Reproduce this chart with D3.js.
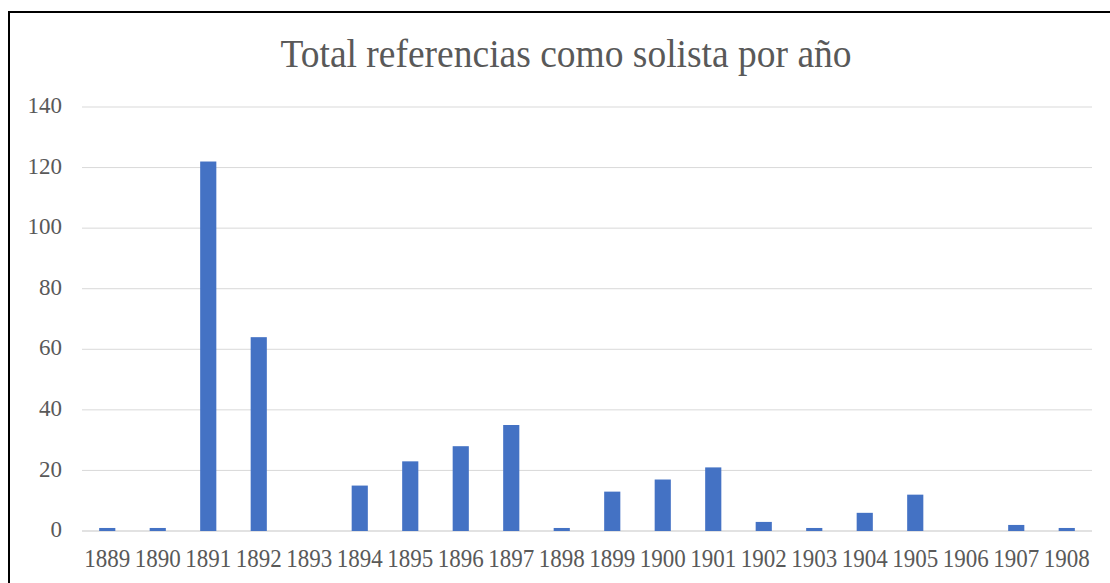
<!DOCTYPE html>
<html>
<head>
<meta charset="utf-8">
<script src="https://cdn.jsdelivr.net/npm/d3@7"></script>
<style>
  body { margin: 0; background: #fff; }
  svg { display: block; }
</style>
</head>
<body>
<svg id="chart" width="1110" height="583"></svg>
<script>
const years = ["1889", "1890", "1891", "1892", "1893", "1894", "1895", "1896", "1897", "1898",
  "1899", "1900", "1901", "1902", "1903", "1904", "1905", "1906", "1907", "1908"];
const counts = [1, 1, 122, 64, 0, 15, 23, 28, 35, 1, 13, 17, 21, 3, 1, 6, 12, 0, 2, 1];
const yTicks = [0, 20, 40, 60, 80, 100, 120, 140];
const title = "Total referencias como solista por año";

const width = 1110;
const height = 583;
const plotLeft = 82, plotRight = 1092, plotTop = 107, plotBottom = 531;
const font = "'Liberation Serif', 'Times New Roman', serif";

const svg = d3.select("#chart");

// frame (only left and top edges visible)
svg.append("rect")
  .attr("x", 9).attr("y", 12)
  .attr("width", 1200).attr("height", 700)
  .attr("fill", "#fff")
  .attr("stroke", "#000")
  .attr("stroke-width", 2);

const x = d3.scaleBand()
  .domain(years)
  .range([plotLeft, plotRight])
  .paddingInner(0.68)
  .paddingOuter(0.34);

const y = d3.scaleLinear()
  .domain([0, 140])
  .range([plotBottom, plotTop]);

// gridlines
svg.append("g")
  .selectAll("line")
  .data(yTicks)
  .join("line")
  .attr("x1", plotLeft).attr("x2", plotRight)
  .attr("y1", d => y(d)).attr("y2", d => y(d))
  .attr("stroke", "#d9d9d9")
  .attr("stroke-width", d => d === 0 ? 1.5 : 1);

// y axis labels
const yAxis = d3.axisLeft(y).tickValues(yTicks).tickSize(0).tickPadding(0);
svg.append("g")
  .attr("transform", `translate(62, -2)`)
  .call(yAxis)
  .call(g => g.select(".domain").remove())
  .selectAll("text")
  .attr("font-family", font)
  .attr("font-size", 23)
  .attr("transform", "scale(1, 1.04)")
  .attr("fill", "#595959");

// bars
svg.append("g")
  .selectAll("rect")
  .data(counts)
  .join("rect")
  .attr("x", (d, i) => x(years[i]))
  .attr("y", d => y(d))
  .attr("width", x.bandwidth())
  .attr("height", d => plotBottom - y(d))
  .attr("fill", "#4472c4");

// x axis labels
const xAxis = d3.axisBottom(x).tickSize(0).tickPadding(0);
svg.append("g")
  .attr("transform", `translate(0, ${plotBottom + 18})`)
  .call(xAxis)
  .call(g => g.select(".domain").remove())
  .selectAll("text")
  .attr("font-family", font)
  .attr("font-size", 23)
  .attr("transform", "scale(1, 1.13)")
  .attr("fill", "#595959");

// title
svg.append("text")
  .attr("transform", "translate(566, 67) scale(1, 1.07)")
  .attr("text-anchor", "middle")
  .attr("font-family", font)
  .attr("font-size", 37.5)
  .attr("fill", "#595959")
  .text(title);
</script>
</body>
</html>
